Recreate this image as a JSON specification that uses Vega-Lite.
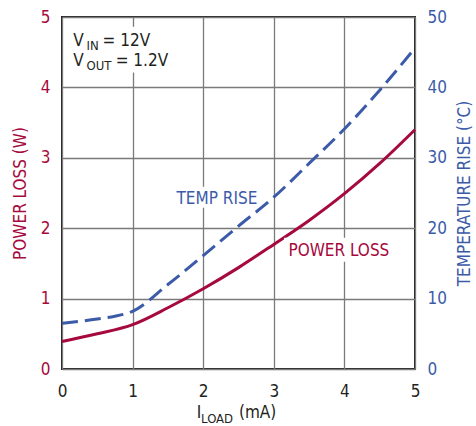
{
  "$schema": "https://vega.github.io/schema/vega-lite/v6.json",
  "width": 353,
  "height": 352,
  "autosize": {"type": "none"},
  "padding": {"left": 62, "top": 17, "right": 61, "bottom": 57},
  "background": "white",
  "config": {
    "font": "DejaVu Sans Condensed, DejaVu Sans, sans-serif",
    "view": {"stroke": "#231f20", "strokeWidth": 2}
  },
  "datasets": {
    "power": [
      {"load": 0, "power": 0.39}, {"load": 0.5, "power": 0.5}, {"load": 1, "power": 0.63},
      {"load": 1.5, "power": 0.87}, {"load": 2, "power": 1.14}, {"load": 2.5, "power": 1.44},
      {"load": 3, "power": 1.77}, {"load": 3.5, "power": 2.11}, {"load": 4, "power": 2.49},
      {"load": 4.5, "power": 2.92}, {"load": 5, "power": 3.4}
    ],
    "temp": [
      {"load": 0, "temp": 6.5}, {"load": 0.5, "temp": 7.1}, {"load": 0.75, "temp": 7.5}, {"load": 1, "temp": 8.2},
      {"load": 1.5, "temp": 12.0}, {"load": 2, "temp": 16.1}, {"load": 2.5, "temp": 20.3},
      {"load": 3, "temp": 24.4}, {"load": 3.5, "temp": 29.2}, {"load": 4, "temp": 34.1},
      {"load": 4.5, "temp": 39.6}, {"load": 5, "temp": 45.6}
    ],
    "boxes": [
      {"load": 0.078, "load2": 1.28, "y1": 4.86, "y2": 4.21},
      {"load": 1.556, "load2": 2.862, "y1": 2.59, "y2": 2.29},
      {"load": 3.146, "load2": 4.723, "y1": 1.865, "y2": 1.524}
    ],
    "mainText": [
      {"load": 0.159, "y": 4.582, "t": "V"},
      {"load": 0.575, "y": 4.582, "t": "= 12V"},
      {"load": 0.159, "y": 4.298, "t": "V"},
      {"load": 0.76, "y": 4.298, "t": "= 1.2V"},
      {"load": 1.908, "y": -0.692, "t": "I"},
      {"load": 2.507, "y": -0.692, "t": "(mA)"}
    ],
    "subText": [
      {"load": 0.348, "y": 4.535, "t": "IN"},
      {"load": 0.348, "y": 4.251, "t": "OUT"},
      {"load": 1.97, "y": -0.763, "t": "LOAD"}
    ],
    "tempLabel": [{"load": 1.622, "y": 2.348, "t": "TEMP RISE"}],
    "powerLabel": [{"load": 3.207, "y": 1.599, "t": "POWER LOSS"}]
  },
  "encoding": {
    "x": {
      "field": "load", "type": "quantitative",
      "scale": {"domain": [0, 5], "nice": false},
      "axis": {
        "values": [0, 1, 2, 3, 4, 5], "title": null, "ticks": false, "domain": false,
        "grid": true, "gridColor": "#7a7a7a", "gridWidth": 1.3, "labelFlush": false,
        "labelFontSize": 17, "labelColor": "#231f20", "labelPadding": 14
      }
    }
  },
  "layer": [
    {
      "data": {"name": "power"},
      "mark": {"type": "line", "color": "#a6093d", "strokeWidth": 3, "interpolate": "monotone"},
      "encoding": {
        "y": {
          "field": "power", "type": "quantitative",
          "scale": {"domain": [0, 5], "nice": false},
          "axis": {
            "orient": "left", "values": [0, 1, 2, 3, 4, 5], "title": "POWER LOSS (W)",
            "ticks": false, "domain": false, "grid": true, "gridColor": "#7a7a7a", "gridWidth": 1.3,
            "labelFontSize": 17, "labelColor": "#a6093d", "labelPadding": 12,
            "titleFontSize": 17, "titleFontWeight": "normal", "titleColor": "#a6093d", "titlePadding": 11
          }
        }
      }
    },
    {
      "data": {"name": "boxes"},
      "mark": {"type": "rect", "color": "white"},
      "encoding": {
        "x2": {"field": "load2"},
        "y": {"field": "y1", "type": "quantitative", "axis": null, "scale": {"domain": [0, 5], "nice": false}},
        "y2": {"field": "y2"}
      }
    },
    {
      "data": {"name": "temp"},
      "mark": {"type": "line", "color": "#3b5ba9", "strokeWidth": 3, "strokeDash": [16, 7], "interpolate": "monotone"},
      "encoding": {
        "y": {
          "field": "temp", "type": "quantitative",
          "scale": {"domain": [0, 50], "nice": false},
          "axis": {
            "orient": "right", "values": [0, 10, 20, 30, 40, 50], "title": "TEMPERATURE RISE (°C)",
            "ticks": false, "domain": false, "grid": false,
            "labelFontSize": 17, "labelColor": "#3b5ba9", "labelPadding": 12,
            "titleFontSize": 17, "titleFontWeight": "normal", "titleColor": "#3b5ba9",
            "titleAngle": 270, "titleBaseline": "top", "titlePadding": 10
          }
        }
      }
    },
    {
      "data": {"name": "mainText"},
      "mark": {"type": "text", "align": "left", "baseline": "alphabetic", "fontSize": 17, "color": "#231f20"},
      "encoding": {
        "y": {"field": "y", "type": "quantitative", "axis": null, "scale": {"domain": [0, 5], "nice": false}},
        "text": {"field": "t"}
      }
    },
    {
      "data": {"name": "subText"},
      "mark": {"type": "text", "align": "left", "baseline": "alphabetic", "fontSize": 13, "color": "#231f20"},
      "encoding": {
        "y": {"field": "y", "type": "quantitative", "axis": null, "scale": {"domain": [0, 5], "nice": false}},
        "text": {"field": "t"}
      }
    },
    {
      "data": {"name": "tempLabel"},
      "mark": {"type": "text", "align": "left", "baseline": "alphabetic", "fontSize": 17, "color": "#3b5ba9"},
      "encoding": {
        "y": {"field": "y", "type": "quantitative", "axis": null, "scale": {"domain": [0, 5], "nice": false}},
        "text": {"field": "t"}
      }
    },
    {
      "data": {"name": "powerLabel"},
      "mark": {"type": "text", "align": "left", "baseline": "alphabetic", "fontSize": 17, "color": "#a6093d"},
      "encoding": {
        "y": {"field": "y", "type": "quantitative", "axis": null, "scale": {"domain": [0, 5], "nice": false}},
        "text": {"field": "t"}
      }
    }
  ],
  "resolve": {"scale": {"y": "independent"}}
}
